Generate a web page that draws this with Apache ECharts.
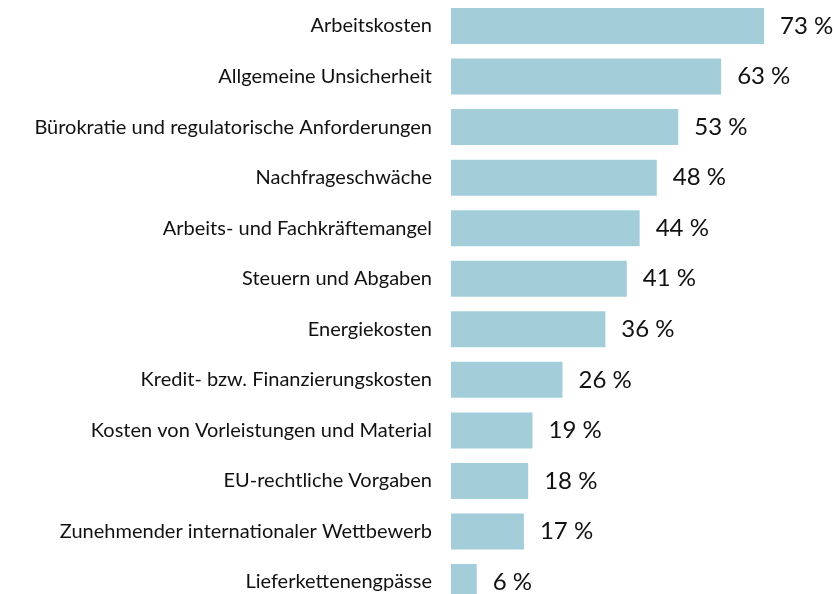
<!DOCTYPE html>
<html><head><meta charset="utf-8">
<script src="https://cdn.jsdelivr.net/npm/echarts@6/dist/echarts.min.js"></script>
<style>html,body{margin:0;padding:0;background:#fff;overflow:hidden}#c{width:833px;height:620px}</style>
</head><body><div id="c"></div>
<script>
const categories = [
  "Arbeitskosten",
  "Allgemeine Unsicherheit",
  "Bürokratie und regulatorische Anforderungen",
  "Nachfrageschwäche",
  "Arbeits- und Fachkräftemangel",
  "Steuern und Abgaben",
  "Energiekosten",
  "Kredit- bzw. Finanzierungskosten",
  "Kosten von Vorleistungen und Material",
  "EU-rechtliche Vorgaben",
  "Zunehmender internationaler Wettbewerb",
  "Lieferkettenengpässe"
];
const values = [73, 63, 53, 48, 44, 41, 36, 26, 19, 18, 17, 6];

const chart = echarts.init(document.getElementById('c'), null, {renderer: 'canvas'});
chart.setOption({
  animation: false,
  grid: {left: 451, top: 0.7, right: 0, height: 606.6, containLabel: false},
  xAxis: {type: 'value', min: 0, max: 89.09, show: false},
  yAxis: {
    type: 'category', data: categories, inverse: true,
    axisLine: {show: false}, axisTick: {show: false},
    axisLabel: {margin: 19, color: '#111', fontSize: 20, fontFamily: 'Lato'}
  },
  series: [{
    type: 'bar', data: values, barWidth: 36,
    itemStyle: {color: '#a3cdd9'},
    label: {show: true, position: 'right', distance: 16, color: '#111', fontSize: 24,
      fontFamily: 'Lato', formatter: p => p.value + ' %'}
  }]
});
</script></body></html>
